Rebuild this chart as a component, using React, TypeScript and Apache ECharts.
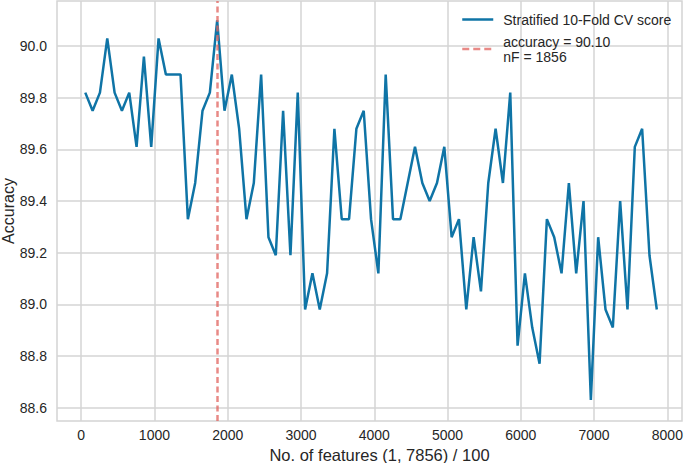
import React, { useEffect, useRef } from 'react';
import * as echarts from 'echarts';

const featureCounts = [
  56, 156, 256, 356, 456, 556, 656, 756, 856, 956,
  1056, 1156, 1256, 1356, 1456, 1556, 1656, 1756, 1856, 1956,
  2056, 2156, 2256, 2356, 2456, 2556, 2656, 2756, 2856, 2956,
  3056, 3156, 3256, 3356, 3456, 3556, 3656, 3756, 3856, 3956,
  4056, 4156, 4256, 4356, 4456, 4556, 4656, 4756, 4856, 4956,
  5056, 5156, 5256, 5356, 5456, 5556, 5656, 5756, 5856, 5956,
  6056, 6156, 6256, 6356, 6456, 6556, 6656, 6756, 6856, 6956,
  7056, 7156, 7256, 7356, 7456, 7556, 7656, 7756, 7856,
];

const accuracy = [
  89.82, 89.75, 89.82, 90.03, 89.82, 89.75, 89.82, 89.61, 89.96, 89.61,
  90.03, 89.89, 89.89, 89.89, 89.33, 89.47, 89.75, 89.82, 90.10, 89.75,
  89.89, 89.68, 89.33, 89.47, 89.89, 89.26, 89.19, 89.75, 89.19, 89.82,
  88.98, 89.12, 88.98, 89.12, 89.68, 89.33, 89.33, 89.68, 89.75, 89.33,
  89.12, 89.89, 89.33, 89.33, 89.47, 89.61, 89.47, 89.40, 89.47, 89.61,
  89.26, 89.33, 88.98, 89.26, 89.05, 89.47, 89.68, 89.47, 89.82, 88.84,
  89.12, 88.91, 88.77, 89.33, 89.26, 89.12, 89.47, 89.12, 89.40, 88.63,
  89.26, 88.98, 88.91, 89.40, 88.98, 89.61, 89.68, 89.19, 88.98,
];

const xTicks = [0, 1000, 2000, 3000, 4000, 5000, 6000, 7000, 8000];
const yTicks = [88.6, 88.8, 89.0, 89.2, 89.4, 89.6, 89.8, 90.0];

const bestCount = 1856;
const bestAccuracy = 90.1;
const scoreName = 'Stratified 10-Fold CV score';
const bestName = `accuracy = ${bestAccuracy.toFixed(2)}\nnF = ${bestCount}`;
const xTitle = 'No. of features (1, 7856) / 100';
const yTitle = 'Accuracy';

const FONT = '"Liberation Sans", Arial, sans-serif';
const TEXT = '#262626';
const GRID = '#d4d4d4';
const BLUE = '#0f74a6';
const RED = '#e0625e';

export default function App() {
  const ref = useRef<HTMLDivElement>(null);
  useEffect(() => {
    const chart = echarts.init(ref.current!, null, { renderer: 'svg' });
    chart.setOption({
      animation: false,
      backgroundColor: '#ffffff',
      textStyle: { fontFamily: FONT },
      grid: {
        left: 57,
        right: 3,
        top: 1,
        bottom: 42,
        show: true,
        borderColor: GRID,
        borderWidth: 1.5,
        containLabel: false,
        outerBoundsMode: 'none',
      },
      legend: {
        orient: 'vertical',
        left: 461,
        top: 12,
        padding: 0,
        itemWidth: 31,
        itemHeight: 14,
        itemGap: 7,
        itemStyle: { opacity: 0 },
        lineStyle: { width: 2.5 },
        textStyle: { fontSize: 14, color: TEXT, fontFamily: FONT, lineHeight: 15, padding: [0, 0, 0, 5] },
        data: [scoreName, bestName],
      },
      xAxis: {
        type: 'value',
        min: -330,
        max: 8200,
        axisLine: { show: false },
        axisTick: { show: false, customValues: xTicks },
        axisLabel: {
          customValues: xTicks,
          fontSize: 14,
          color: TEXT,
          margin: 7,
          fontFamily: FONT,
          formatter: (v: number) => String(v),
        },
        splitLine: { show: true, lineStyle: { color: GRID, width: 1.5 } },
        name: xTitle,
        nameLocation: 'middle',
        nameGap: 24,
        nameTextStyle: { fontSize: 16.5, color: TEXT, fontFamily: FONT, padding: [0, 0, 0, 20] },
      },
      yAxis: {
        type: 'value',
        min: 88.548,
        max: 90.175,
        axisLine: { show: false },
        axisTick: { show: false, customValues: yTicks },
        axisLabel: {
          customValues: yTicks,
          fontSize: 14,
          color: TEXT,
          margin: 10,
          fontFamily: FONT,
          formatter: (v: number) => v.toFixed(1),
        },
        splitLine: { show: true, lineStyle: { color: GRID, width: 1.5 } },
        name: yTitle,
        nameLocation: 'middle',
        nameGap: 41,
        nameMoveOverlap: false,
        nameTextStyle: { fontSize: 16, color: TEXT, fontFamily: FONT },
      },
      series: [
        {
          name: scoreName,
          type: 'line',
          data: featureCounts.map((x, i) => [x, accuracy[i]]),
          symbol: 'none',
          lineStyle: { color: BLUE, width: 2.5 },
          itemStyle: { color: BLUE },
          z: 2,
        },
        {
          name: bestName,
          type: 'line',
          data: [],
          symbol: 'none',
          lineStyle: { color: RED, width: 2.5, type: [7, 4], opacity: 0.75 },
          itemStyle: { color: RED, opacity: 0.75 },
          z: 3,
          markLine: {
            silent: true,
            symbol: ['none', 'none'],
            label: { show: false },
            lineStyle: { color: RED, width: 2.5, type: [6, 3.5], opacity: 0.75 },
            data: [{ xAxis: bestCount }],
            z: 3,
          },
        },
      ],
    });
    return () => chart.dispose();
  }, []);
  return <div ref={ref} style={{ position: 'fixed', left: 0, top: 0, width: 685, height: 463 }} />;
}
